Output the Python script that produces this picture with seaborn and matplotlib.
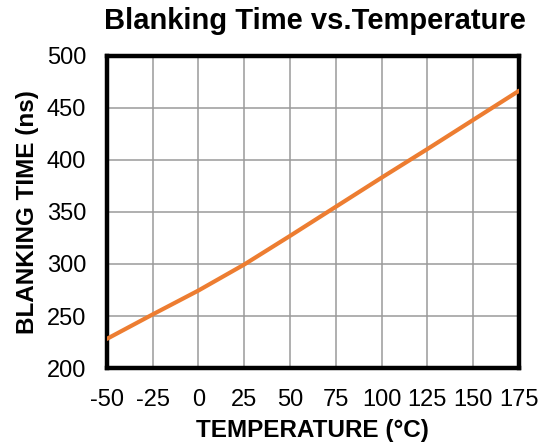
import matplotlib
matplotlib.use("Agg")
import matplotlib.pyplot as plt
import pandas as pd
import seaborn as sns

temperature = [-50, -25, 0, 25, 50, 75, 100, 125, 150, 175]
blanking_time = [228, 251.5, 274.5, 299.5, 327, 355, 383, 410.5, 438.5, 466.5]
x_ticks = [-50, -25, 0, 25, 50, 75, 100, 125, 150, 175]
y_ticks = [200, 250, 300, 350, 400, 450, 500]


def plot():
    df = pd.DataFrame({'Temperature': temperature, 'Blanking': blanking_time})

    sns.set_style("white")
    plt.rcParams['font.family'] = ['Liberation Sans', 'DejaVu Sans']
    plt.rcParams['axes.unicode_minus'] = False
    plt.rcParams['text.color'] = 'black'
    plt.rcParams['axes.labelcolor'] = 'black'
    plt.rcParams['xtick.color'] = 'black'
    plt.rcParams['ytick.color'] = 'black'

    fig = plt.figure(figsize=(5.48, 4.42), dpi=100)
    ax = fig.add_axes([0.195, 0.1674, 0.752, 0.706])

    sns.lineplot(data=df, x='Temperature', y='Blanking', color='#ED7D31',
                 linewidth=3, ax=ax, zorder=3)

    ax.set_xlim(-50, 175)
    ax.set_ylim(200, 500)
    ax.set_xticks(x_ticks)
    ax.set_yticks(y_ticks)
    ax.grid(True, color='#9a9a9a', linewidth=1.1)
    ax.tick_params(axis='x', labelsize=17, length=0, pad=15)
    ax.tick_params(axis='y', labelsize=17, length=0, pad=15)
    for s in ax.spines.values():
        s.set_linewidth(3.2)
        s.set_color('black')

    ax.set_xlabel('TEMPERATURE (°C)', fontsize=17.5, fontweight='bold')
    ax.set_ylabel('BLANKING TIME (ns)', fontsize=17.5, fontweight='bold')
    ax.xaxis.set_label_coords(0.5, -0.165)
    ax.yaxis.set_label_coords(-0.165, 0.5)
    fig.text(0.575, 0.952, 'Blanking Time vs.Temperature', fontsize=21,
             fontweight='bold', ha='center', va='center')

    fig.savefig('out.png', dpi=100)


if __name__ == '__main__':
    plot()
